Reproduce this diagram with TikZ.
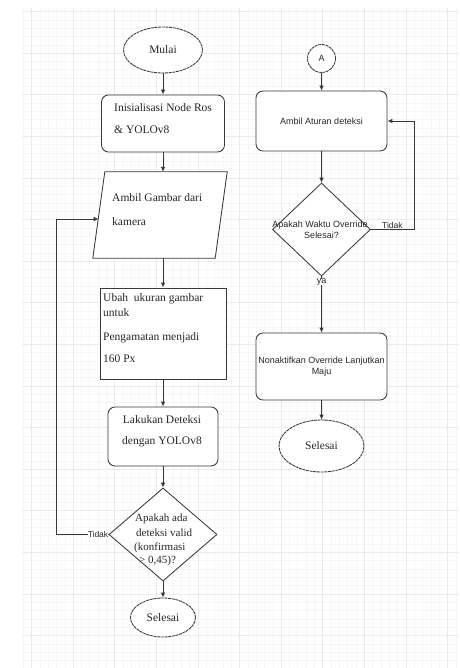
\documentclass[tikz,border=0pt]{standalone}
\usepackage{fontspec}
\setmainfont{Liberation Serif}
\setsansfont{Liberation Sans}
\usetikzlibrary{shapes.geometric,arrows.meta}
\definecolor{lc}{HTML}{383838}
\definecolor{tx}{HTML}{262626}
\definecolor{gminor}{HTML}{F8F5F5}
\definecolor{gmajor}{HTML}{EEE9E9}
\tikzset{
 shp/.style={draw=lc, line width=0.85pt, fill=white, inner sep=0pt},
 rbox/.style={shp, rectangle, rounded corners=7pt},
 sbox/.style={shp, rectangle},
 term/.style={shp, ellipse, dash pattern=on 3pt off 0.7pt, font=\fontsize{11.5}{13}\selectfont, text=tx},
 dia/.style={shp, diamond},
 sertxt/.style={font=\fontsize{11.5}{13}\selectfont, text=tx, inner sep=0pt},
 diatxt/.style={font=\fontsize{11}{13}\selectfont, text=tx, inner sep=0pt},
 santxt/.style={font=\sffamily\fontsize{9}{11}\selectfont, text=tx, inner sep=0pt},
 arr/.style={draw=lc, line width=0.85pt, -{Latex[length=5pt,width=4.5pt]}},
 plain/.style={draw=lc, line width=0.85pt},
}
\begin{document}
\begin{tikzpicture}[x=1pt,y=-1pt]
\useasboundingbox (0,0) rectangle (459,668);
\fill[white] (0,0) rectangle (459,668);
% background grid
\begin{scope}[shift={(73,53)}]
\draw[gminor, line width=0.35pt, step=8.32pt] (-51,615) grid (386,-45);
\draw[gmajor, line width=0.45pt, step=41.6pt] (-51,615) grid (386,-45);
\end{scope}

% ---------- left column ----------
\node[term, minimum width=79pt, minimum height=46pt] (start) at (163,50) {Mulai};
\node[rbox, minimum width=123pt, minimum height=57pt] (init) at (163,123.5) {};
\node[sertxt, anchor=base west] (init1) at (114,111.5) {Inisialisasi Node Ros};
\node[sertxt, anchor=base west] (init2) at (114,133.5) {\& YOLOv8};

\node[draw=none, inner sep=0pt, minimum width=122pt, minimum height=86pt] (p) at (160,215) {};
\draw[plain, fill=white] ([xshift=6pt]p.north west) -- ([xshift=6pt]p.north east)
  -- ([xshift=-6pt]p.south east) -- ([xshift=-6pt]p.south west) -- cycle;
\coordinate (pin) at (98.6,219);
\node[sertxt, anchor=base west] (p1) at (112,201.5) {Ambil Gambar dari};
\node[sertxt, anchor=base west] (p2) at (112,225.5) {kamera};

\node[sbox, minimum width=126pt, minimum height=91pt] (ubah) at (163,333.5) {};
\node[sertxt, anchor=base west] (u1) at (103,301.5) {Ubah\hspace{3pt} ukuran gambar};
\node[sertxt, anchor=base west] (u2) at (103,316.5) {untuk};
\node[sertxt, anchor=base west] (u3) at (103,340.5) {Pengamatan menjadi};
\node[sertxt, anchor=base west] (u4) at (103,362.5) {160 Px};

\node[rbox, minimum width=110pt, minimum height=59pt] (lak) at (163,436.5) {};
\node[sertxt, anchor=base] (l1) at (162,423.5) {Lakukan Deteksi};
\node[sertxt, anchor=base] (l2) at (162,444.5) {dengan YOLOv8};

\node[dia, minimum width=108pt, minimum height=93pt] (d1) at (163,534.5) {};
\node[diatxt, anchor=base west] (d1a) at (135,521.5) {Apakah ada};
\node[diatxt, anchor=base west] (d1b) at (136,536.5) {deteksi valid};
\node[diatxt, anchor=base west] (d1c) at (134,550.5) {(konfirmasi};
\node[diatxt, anchor=base west] (d1d) at (139,563.5) {> 0,45)?};

\node[term, minimum width=65pt, minimum height=39pt] (sel1) at (163,617.5) {Selesai};

\draw[arr] (start) -- (init);
\draw[arr] (init.south) -- (init.south |- p.north);
\draw[arr] (ubah.north |- p.south) -- (ubah.north);
\draw[arr] (ubah) -- (lak);
\draw[arr] (lak) -- (d1);
\draw[arr] (d1) -- (sel1);
\draw[arr, line width=0.7pt] (d1.west) -- node[pos=0, anchor=east, fill=white, inner xsep=4pt, inner ysep=1pt, santxt, font=\sffamily\fontsize{8.5}{10}\selectfont] (t1) {Tidak} ++(-52,0) |- (pin);

% ---------- right column ----------
\node[shp, circle, minimum size=28pt, dash pattern=on 3pt off 0.7pt, santxt] (A) at (321.5,58.5) {A};
\node[rbox, minimum width=131pt, minimum height=60pt, santxt] (ambil) at (321.5,121) {Ambil Aturan deteksi};
\node[dia, minimum width=98pt, minimum height=93pt] (d2) at (321.5,229.5) {};
\node[santxt, anchor=base] (d2a) at (320,227) {Apakah Waktu Override};
\node[santxt, anchor=base] (d2b) at (321.5,238) {Selesai?};
\node[rbox, minimum width=131pt, minimum height=67pt] (non) at (321.5,366.5) {};
\node[santxt, anchor=base] (n1) at (321.5,363.5) {Nonaktifkan Override Lanjutkan};
\node[santxt, anchor=base] (n2) at (321.5,374) {Maju};
\node[term, minimum width=85pt, minimum height=52pt] (sel2) at (321.5,446) {Selesai};

\draw[arr] (A) -- (ambil);
\draw[arr] (ambil) -- (d2);
\draw[arr] (d2.south) -- node[pos=0.1, fill=white, inner sep=1pt, santxt] (ya) {ya} (non.north);
\draw[arr] (non) -- (sel2);
\draw[arr] (d2.east) -- node[pos=0.5, anchor=base, yshift=1.5pt, santxt, font=\sffamily\fontsize{8.5}{10}\selectfont] (t2) {Tidak} ++(43,0) |- (ambil.east);
\end{tikzpicture}
\end{document}
